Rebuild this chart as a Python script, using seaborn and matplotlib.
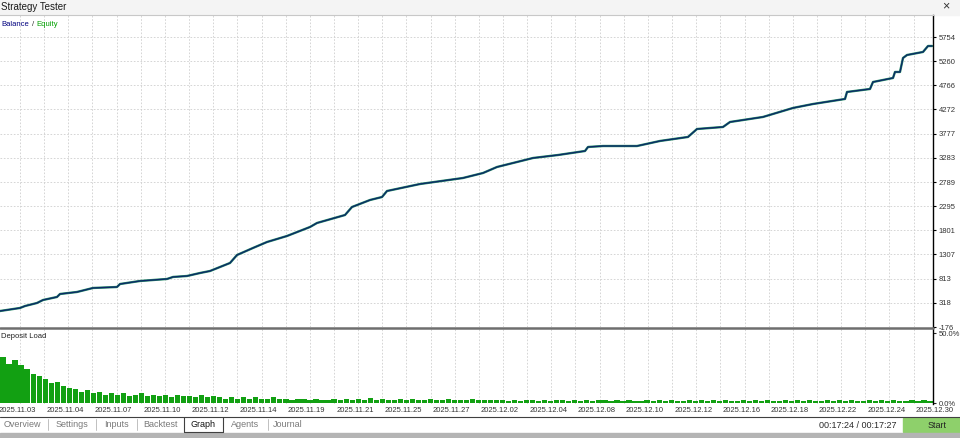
import numpy as np
import seaborn as sns
import matplotlib
matplotlib.use('Agg')
import matplotlib.pyplot as plt
import matplotlib.transforms as mtransforms
from matplotlib.lines import Line2D
from matplotlib.patches import Rectangle

sns.set_style('white')  # plain white like the tester window
plt.rcParams['font.family'] = ['Liberation Sans', 'DejaVu Sans']

# balance curve (deal number, account balance)
deal_no = [0, 20, 25, 37, 43, 57, 60, 77, 93, 117,
           120, 140, 167, 173, 187, 200, 210, 220, 230, 237,
           253, 267, 287, 310, 317, 345, 352, 370, 382, 387,
           420, 463, 483, 497, 517, 533, 558, 585, 588, 603,
           637, 660, 688, 697, 723, 730, 763, 793, 813, 845,
           847, 870, 873, 893, 895, 900, 903, 907, 923, 928,
           932]
balance = [151, 213, 253, 315, 376, 438, 499, 540, 622, 642,
           703, 765, 806, 847, 867, 928, 969, 1051, 1133, 1296,
           1440, 1562, 1685, 1869, 1951, 2114, 2278, 2421, 2482, 2605,
           2748, 2871, 2973, 3096, 3198, 3280, 3341, 3423, 3505, 3525,
           3525, 3628, 3710, 3873, 3914, 4016, 4119, 4303, 4384, 4487,
           4630, 4691, 4834, 4916, 5039, 5039, 5325, 5386, 5448, 5570,
           5570]
equity = list(balance)  # equity sits right under the balance line

# deposit load in % (equal blocks of deals, left to right)
load = [33, 28, 31, 27, 24, 21, 19, 17, 14, 15,
        12, 11, 10, 8, 9, 7, 8, 6, 7, 6,
        7, 5, 6, 7, 5, 6, 5, 6, 4, 6,
        5, 5, 4, 6, 4, 5, 4, 3, 4, 3,
        4, 3, 4, 3, 3, 4, 3, 3, 2, 3,
        3, 2, 3, 2, 2,
        3, 2.5, 3, 2, 3, 2.5, 3.5, 2, 3, 2.5,
        2, 3, 2.5, 3, 2, 2.5, 3, 2, 2.5, 3,
        2, 2.5, 2, 3, 2, 2.5, 2, 2.5,
        2, 1.5, 2, 1.5, 2, 2, 1.5, 2, 1.5, 2,
        2.5, 1.5, 2, 1.5, 2, 1.5, 2, 2, 1.5, 2,
        1.5, 2, 1.5, 1.5, 2, 1.5, 2, 1.5, 2, 1.5,
        1.5, 2, 1.5, 2, 1.5, 2, 1.5, 2, 1.5, 1.5,
        2, 1.5, 2, 1.5, 2, 1.5, 1.5, 2, 1.5, 2,
        1.5, 2, 1.5, 1.5, 2, 1.5, 2, 1.5, 2, 1.5,
        1.5, 2, 1.5, 2, 1.5, 2, 1.5, 1.5, 2, 1.5,
        2, 1.5]

balance_ticks = ['-176', '318', '813', '1307', '1801', '2295', '2789',
                 '3283', '3777', '4272', '4766', '5260', '5754']
load_ticks = ['0.0%', '50.0%']
date_labels = ['2025.11.03', '2025.11.04', '2025.11.07', '2025.11.10', '2025.11.12',
               '2025.11.14', '2025.11.19', '2025.11.21', '2025.11.25', '2025.11.27',
               '2025.12.02', '2025.12.04', '2025.12.08', '2025.12.10', '2025.12.12',
               '2025.12.16', '2025.12.18', '2025.12.22', '2025.12.24', '2025.12.30']
tabs = ['Overview', 'Settings', 'Inputs', 'Backtest', 'Graph', 'Agents', 'Journal']

# figure in pixel units
W, H = 960, 438
fig = plt.figure(figsize=(W / 100, H / 100), dpi=100)
fig.patch.set_facecolor('white')


def fx(px):
    return px / W


def fy(py):
    return 1 - py / H


RIGHT = 933
ax = fig.add_axes([0, fy(327), fx(RIGHT), fy(15) - fy(327)])
ax_load = fig.add_axes([0, fy(404), fx(RIGHT), fy(328) - fy(404)])

# grid lines every ~24 px, dates on every other one
grid_pos = np.arange(20, RIGHT, 24.15)
date_pos = 20 + 48.3 * np.arange(len(date_labels))

# main chart
sns.lineplot(x=deal_no, y=equity, ax=ax, color='#2b8f6a', lw=1.7,
             sort=False, estimator=None, legend=False)
sns.lineplot(x=deal_no, y=balance, ax=ax, color='#0b2a66', lw=1.0,
             sort=False, estimator=None, legend=False)
ax.set_xlim(0, RIGHT)
ax.set_ylim(-176, 6204)
ax.set_yticks([float(t) for t in balance_ticks])
ax.set_yticklabels(balance_ticks)
ax.yaxis.tick_right()
ax.tick_params(axis='y', length=2, pad=2, labelsize=5.5, labelcolor='#333333', color='black')
ax.set_xticks(grid_pos)
ax.tick_params(axis='x', length=0, labelbottom=False)
ax.grid(True, color='#cfcfcf', lw=0.6, ls=(0, (2, 2)))
ax.set_xlabel('')
ax.set_ylabel('')
for s in ['left', 'bottom']:
    ax.spines[s].set_visible(False)
ax.spines['top'].set_color('#c8c8c8')
ax.spines['top'].set_linewidth(0.8)
ax.spines['right'].set_color('black')
ax.spines['right'].set_linewidth(1)

# deposit load panel
step = RIGHT / len(load)
bar_x = step * (np.arange(len(load)) + 0.5)
ax_load.bar(bar_x, load, width=step * 0.86, color='#12a012', lw=0)
ax_load.set_xlim(0, RIGHT)
ax_load.set_ylim(-0.7, 53.6)
ax_load.set_yticks([0, 50])
ax_load.set_yticklabels(load_ticks)
ax_load.yaxis.tick_right()
ax_load.tick_params(axis='y', length=2, pad=2, labelsize=5.5, labelcolor='#333333')
ax_load.set_xticks(grid_pos)
ax_load.tick_params(axis='x', length=0, labelbottom=False)
ax_load.grid(True, axis='x', color='#cfcfcf', lw=0.6, ls=(0, (2, 2)))
ax_load.set_axisbelow(True)
for s in ['left', 'bottom', 'top']:
    ax_load.spines[s].set_visible(False)
ax_load.spines['right'].set_color('black')
ax_load.spines['right'].set_linewidth(1)

date_tr = mtransforms.blended_transform_factory(ax_load.transData, fig.transFigure)
for p, lab in zip(date_pos, date_labels):
    ax_load.text(p - 3, fy(410), lab, transform=date_tr, ha='center', va='center',
                 fontsize=5.5, color='#333333', clip_on=False)

# separator between panels
fig.add_artist(Line2D([0, fx(RIGHT)], [fy(327.5), fy(327.5)], transform=fig.transFigure,
                      color='#6e6e6e', lw=1.8))

# window title bar
fig.add_artist(Rectangle((0, fy(15)), 1, 15 / H, transform=fig.transFigure,
                         color='#f4f4f4', zorder=0))
fig.text(fx(1), fy(6.5), 'Strategy Tester', fontsize=7, va='center', color='#1a1a1a')
fig.text(fx(946), fy(6), '\u00d7', fontsize=9, ha='center', va='center', color='#333333')

# legend-like captions
fig.text(fx(1), fy(25), 'Balance', ha='left', va='center', fontsize=5.5, color='#00007f')
fig.text(fx(33), fy(25), '/', ha='center', va='center', fontsize=5.5, color='#333333')
fig.text(fx(36.5), fy(25), 'Equity', ha='left', va='center', fontsize=5.5, color='#00a000')
fig.text(fx(1), fy(336), 'Deposit Load', ha='left', va='center', fontsize=5.5, color='#222222')

# tab bar
fig.add_artist(Line2D([0, 1], [fy(417), fy(417)], transform=fig.transFigure, color='#404040', lw=0.8))
tab_x = [22, 72, 116, 160, 203, 245, 288]
for name, x in zip(tabs, tab_x):
    fig.text(fx(x), fy(424.5), name, ha='center', va='center', fontsize=6.5,
             color='#111111' if name == 'Graph' else '#7a7a7a')
for x in [48, 96, 137, 268]:
    fig.add_artist(Line2D([fx(x), fx(x)], [fy(419), fy(430)], transform=fig.transFigure,
                          color='#c0c0c0', lw=0.7))
for x in [184, 223]:
    fig.add_artist(Line2D([fx(x), fx(x)], [fy(417), fy(432)], transform=fig.transFigure,
                          color='#404040', lw=0.8))
fig.add_artist(Line2D([fx(184), fx(223)], [fy(432), fy(432)], transform=fig.transFigure,
                      color='#404040', lw=0.8))

fig.text(fx(858), fy(425), '00:17:24 / 00:17:27', ha='center', va='center', fontsize=6.5, color='#2a2a2a')
fig.add_artist(Rectangle((fx(903), fy(432)), fx(960) - fx(903), 14 / H, transform=fig.transFigure,
                         color='#8ed06b', zorder=1))
fig.text(fx(937), fy(425), 'Start', ha='center', va='center', fontsize=6.5, color='#222222', zorder=2)

# grey strip at the very bottom
fig.add_artist(Rectangle((0, 0), 1, 5 / H, transform=fig.transFigure, color='#b4b4b4', zorder=1))

fig.savefig('out.png', dpi=100)
